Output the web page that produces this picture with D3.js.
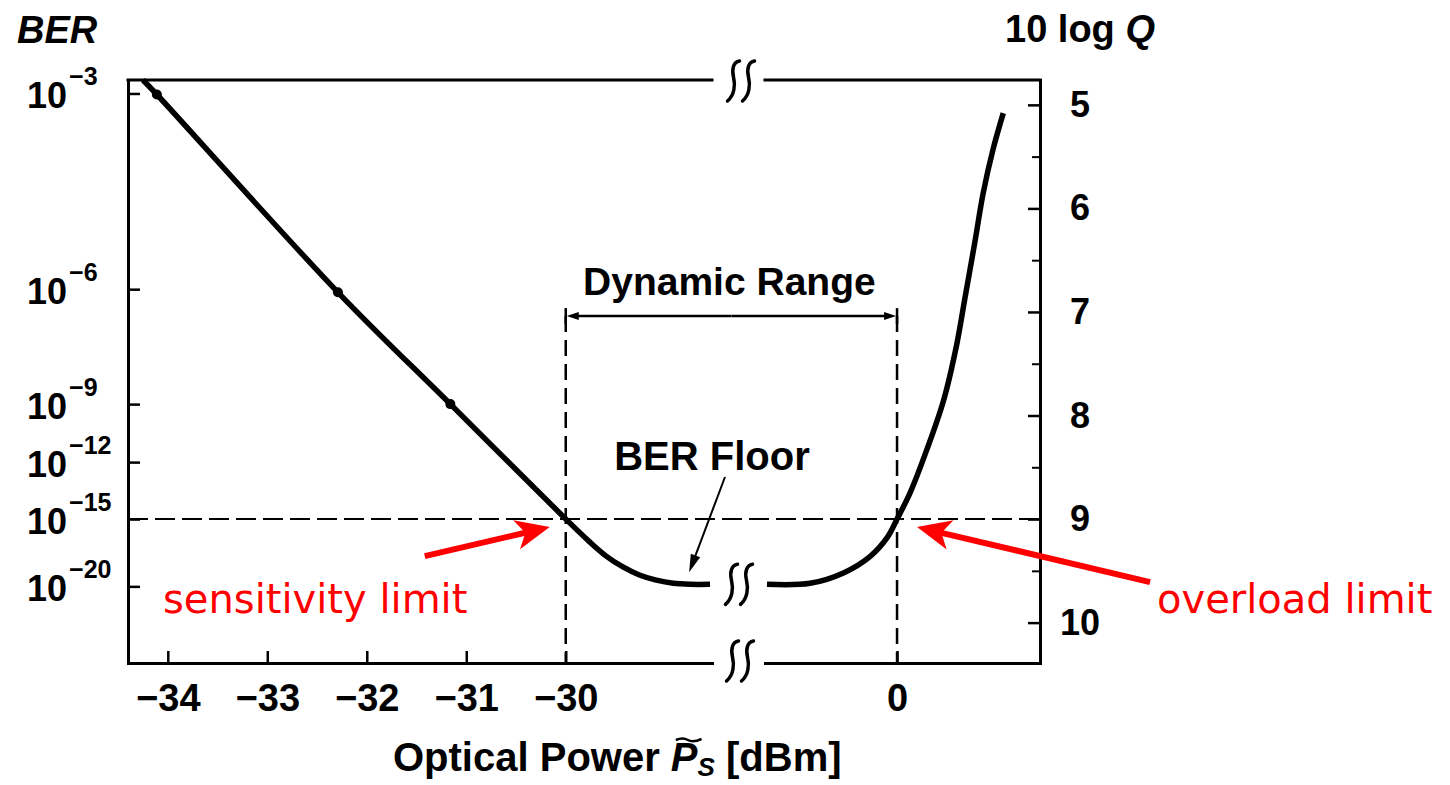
<!DOCTYPE html>
<html>
<head>
<script src="https://d3js.org/d3.v7.min.js"></script>
<style>
  body { margin: 0; background: #fff; }
  text { font-family: "Liberation Sans", Arial, Helvetica, sans-serif; }
  .lbl { font-weight: bold; fill: #000; }
  .red { font-family: "DejaVu Sans", Verdana, sans-serif; fill: #ff0000; font-size: 40px; }
</style>
</head>
<body>
<script>
// curve: optical power [dBm] vs 10 log Q
var powerLeft  = [-34.25, -34.11, -32.29, -31.16, -30.0, -29.76, -29.59, -29.43, -29.26, -29.09, -28.92, -28.75, -28.55];
var qLeft      = [4.76, 4.90, 6.81, 7.89, 9.00, 9.22, 9.36, 9.46, 9.54, 9.59, 9.62, 9.63, 9.63];
var powerRight = [-1.31, -0.876, -0.54, -0.27, -0.10, 0, 0.13, 0.30, 0.47, 0.60, 0.685, 0.785, 0.866, 0.967, 1.07];
var qRight     = [9.63, 9.62, 9.52, 9.36, 9.18, 9.00, 8.75, 8.33, 7.85, 7.32, 6.86, 6.32, 5.86, 5.43, 5.08];
var dotPower = [-34.11, -32.29, -31.16];
var dotQ     = [4.90, 6.81, 7.89];

var xTicksLeft  = [-34, -33, -32, -31, -30];
var xTicksRight = [0];
var qTicks      = [5, 6, 7, 8, 9, 10];
var qMinorTicks = [5.5, 6.5, 7.5, 8.5, 9.5];
var berExponents = [-3, -6, -9, -12, -15, -20];
var berQ         = [4.89, 6.78, 7.89, 8.45, 9.0, 9.65];

var sensitivityPower = -30, overloadPower = 0, limitQ = 9.0, bracketQ = 7.04, floorQ = 9.63;

var W = 1450, H = 785;
var svg = d3.select("body").append("svg").attr("width", W).attr("height", H);
svg.append("rect").attr("width", W).attr("height", H).attr("fill", "#fff");

var xL = d3.scaleLinear().domain([-34.4, -28.53]).range([128, 712]);
var xR = d3.scaleLinear().domain([-1.33, 1.44]).range([765, 1040]);
var y  = d3.scaleLinear().domain([4.76, 10.39]).range([80, 663]);
var plotTop = y.range()[0], plotBottom = y.range()[1];
var plotLeft = xL.range()[0], plotRight = xR.range()[1];
var breakX = (xL.range()[1] + xR.range()[0]) / 2;

function styleAxis(g, tw) {
  g.select(".domain").attr("stroke-width", 3).attr("stroke-linecap", "square");
  g.selectAll(".tick line").attr("stroke-width", tw || 2.5);
  g.selectAll("text").attr("class", "lbl").style("font-size", "38px").attr("font-family", null);
}
var minus = function(d) { return d < 0 ? "\u2212" + Math.abs(d) : d; };

// bottom axis, two pieces
var bxL = svg.append("g").attr("transform", "translate(0," + plotBottom + ")")
  .call(d3.axisBottom(xL).tickValues(xTicksLeft).tickSizeInner(-12).tickSizeOuter(0).tickFormat(minus));
var bxR = svg.append("g").attr("transform", "translate(0," + plotBottom + ")")
  .call(d3.axisBottom(xR).tickValues(xTicksRight).tickSizeInner(-12).tickSizeOuter(0).tickFormat(minus));
[bxL, bxR].forEach(function(g) {
  styleAxis(g);
  g.selectAll("text").attr("y", 48).attr("dy", 0);
});

// top frame
svg.append("path")
  .attr("d", "M" + plotLeft + "," + plotTop + "H" + xL.range()[1] + "M" + xR.range()[0] + "," + plotTop + "H" + plotRight)
  .attr("stroke", "#000").attr("stroke-width", 3).attr("fill", "none").attr("stroke-linecap", "square");

// left axis (BER ticks)
var ay = svg.append("g").attr("transform", "translate(" + plotLeft + ",0)")
  .call(d3.axisLeft(y).tickValues(berQ).tickFormat("").tickSizeInner(-12).tickSizeOuter(0));
styleAxis(ay);

// right axis (10 log Q)
var ry = svg.append("g").attr("transform", "translate(" + plotRight + ",0)")
  .call(d3.axisRight(y).tickValues(qTicks).tickFormat(d3.format("d")).tickSizeInner(-12).tickSizeOuter(0));
styleAxis(ry);
ry.selectAll("text").attr("x", 40).style("text-anchor", "middle").style("font-size", "36px");
var ry2 = svg.append("g").attr("transform", "translate(" + plotRight + ",0)")
  .call(d3.axisRight(y).tickValues(qMinorTicks).tickFormat("").tickSizeInner(-8).tickSizeOuter(0));
styleAxis(ry2, 2);

// BER labels
berExponents.forEach(function(e, i) {
  var t = svg.append("text").attr("class", "lbl").attr("x", 27).attr("y", y(berQ[i]) + 15)
    .style("font-size", "36px").text("10");
  t.append("tspan").attr("dx", 2).attr("dy", -23).style("font-size", "25px").text("\u2212" + Math.abs(e));
});

// axis titles
svg.append("text").attr("class", "lbl").attr("x", 17).attr("y", 43)
  .style("font-size", "38px").style("font-style", "italic").text("BER");
var qt = svg.append("text").attr("class", "lbl").attr("x", 1005).attr("y", 42).style("font-size", "38px").text("10 log ");
qt.append("tspan").style("font-style", "italic").text("Q");

var xt = svg.append("text").attr("class", "lbl").attr("x", 393).attr("y", 771).style("font-size", "40px").text("Optical Power ");
xt.append("tspan").style("font-style", "italic").text("P");
xt.append("tspan").attr("dy", 5).style("font-size", "26px").style("font-style", "italic").text("S");
xt.append("tspan").attr("dy", -5).text(" [dBm]");
var pIdx = "Optical Power ".length;
var node = xt.node();
var p0 = node.getStartPositionOfChar(pIdx), p1 = node.getEndPositionOfChar(pIdx);
svg.append("path")
  .attr("d", "M" + (p0.x + 5) + ",740 Q" + (p0.x + 12) + ",737 " + (p0.x + 17) + ",740 T" + (p1.x + 4) + ",739")
  .attr("stroke", "#000").attr("stroke-width", 2.5).attr("fill", "none");

// dashed guides
svg.append("line").attr("x1", plotLeft).attr("x2", plotRight).attr("y1", y(limitQ)).attr("y2", y(limitQ))
  .attr("stroke", "#000").attr("stroke-width", 2).attr("stroke-dasharray", "20,7");
[xL(sensitivityPower), xR(overloadPower)].forEach(function(x) {
  svg.append("line").attr("x1", x).attr("x2", x).attr("y1", y(bracketQ)).attr("y2", plotBottom)
    .attr("stroke", "#000").attr("stroke-width", 2.5).attr("stroke-dasharray", "16,8");
});

// arrow helper
function arrow(g, x1, y1, x2, y2, len, hw, notch, width, color) {
  var a = Math.atan2(y2 - y1, x2 - x1), ux = Math.cos(a), uy = Math.sin(a);
  var nx = -uy, ny = ux;
  var bx = x2 - ux * len, by = y2 - uy * len;
  var mx = x2 - ux * (len - notch), my = y2 - uy * (len - notch);
  g.append("line").attr("x1", x1).attr("y1", y1).attr("x2", mx + ux * 2).attr("y2", my + uy * 2)
    .attr("stroke", color).attr("stroke-width", width);
  g.append("path").attr("d", "M" + x2 + "," + y2 + "L" + (bx + nx * hw) + "," + (by + ny * hw) +
    "L" + mx + "," + my + "L" + (bx - nx * hw) + "," + (by - ny * hw) + "Z").attr("fill", color);
}

// dynamic range bracket
var bl = xL(sensitivityPower), br = xR(overloadPower), bky = y(bracketQ);
var mid = (bl + br) / 2;
arrow(svg, mid, bky, bl + 1, bky, 12, 4, 0, 2.5, "#000");
arrow(svg, mid, bky, br - 1, bky, 12, 4, 0, 2.5, "#000");
[bl, br].forEach(function(x) {
  svg.append("line").attr("x1", x).attr("x2", x).attr("y1", bky - 8).attr("y2", bky + 8)
    .attr("stroke", "#000").attr("stroke-width", 2.5);
});
svg.append("text").attr("class", "lbl").attr("x", mid - 2).attr("y", bky - 21)
  .style("font-size", "39px").style("text-anchor", "middle").text("Dynamic Range");

// curve
var line = function(xs) {
  return d3.line().x(function(d) { return xs(d[0]); }).y(function(d) { return y(d[1]); }).curve(d3.curveCatmullRom);
};
svg.append("path").datum(d3.zip(powerLeft, qLeft)).attr("d", line(xL))
  .attr("fill", "none").attr("stroke", "#000").attr("stroke-width", 5.5);
svg.append("path").datum(d3.zip(powerRight, qRight)).attr("d", line(xR))
  .attr("fill", "none").attr("stroke", "#000").attr("stroke-width", 5.5);
svg.selectAll(".dot").data(d3.zip(dotPower, dotQ)).enter().append("circle")
  .attr("cx", function(d) { return xL(d[0]); }).attr("cy", function(d) { return y(d[1]); })
  .attr("r", 5).attr("fill", "#000");

// axis break marks
function squiggle(cx, cy) {
  [-7, 8].forEach(function(dx) {
    svg.append("path")
      .attr("transform", "translate(" + (cx + dx) + "," + cy + ")")
      .attr("d", "M6,-20 C0,-19 -2,-12 0,-4 C2,4 1,14 -6,20")
      .attr("fill", "none").attr("stroke", "#000").attr("stroke-width", 3.5).attr("stroke-linecap", "round");
  });
}
squiggle(breakX + 2, plotTop + 1);
squiggle(breakX, y(floorQ));
squiggle(breakX + 1, plotBottom - 2);

// BER floor
var fx = xL(-28.8), fy = y(floorQ);
svg.append("text").attr("class", "lbl").attr("x", 712).attr("y", 470)
  .style("font-size", "40px").style("text-anchor", "middle").text("BER Floor");
arrow(svg, 725, 477, fx + 4, fy - 12, 18, 5, 0, 2, "#000");

// red annotations
var sx = xL(sensitivityPower), sy = y(limitQ), ox = xR(overloadPower);
arrow(svg, sx - 141, sy + 37, sx - 16, sy + 8, 34, 15, 9, 6, "#ff0000");
arrow(svg, ox + 253, sy + 63, ox + 20, sy + 8, 34, 15, 9, 6, "#ff0000");
svg.append("text").attr("class", "red").attr("x", 163).attr("y", 613).text("sensitivity limit");
svg.append("text").attr("class", "red").attr("x", 1157).attr("y", 613).text("overload limit");
</script>
</body>
</html>
